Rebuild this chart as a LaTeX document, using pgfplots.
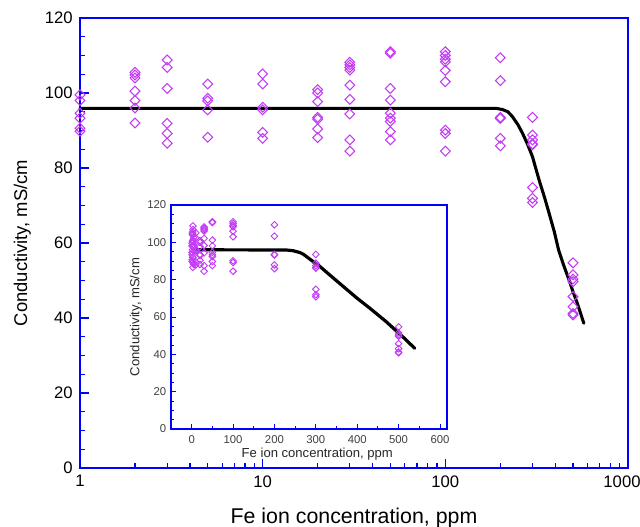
\documentclass[border=0pt]{standalone}
\usepackage{fontspec}
\setmainfont{Liberation Sans}
\usepackage{pgfplots}
\pgfplotsset{compat=1.18}
\usepackage{pgfplotstable}

\definecolor{axblue}{RGB}{0,0,255}
\definecolor{mk}{RGB}{195,60,245}

\pgfplotstableread{
x y
1 99.5
1 98
1 94.6
1 93.3
1 90.6
1 89.8
2 105.5
2 104.8
2 104
2 100.5
2 98
2 96
2 92
3 108.8
3 106.8
3 101.2
3 91.9
3 89.2
3 86.6
5 102.4
5 98.6
5 97.9
5 95.5
5 88.2
10 105.1
10 102.4
10 96.2
10 95.5
10 89.5
10 87.9
20 100.9
20 100
20 97.7
20 93.5
20 93
20 90.4
20 88.1
30 108.2
30 107.5
30 106.8
30 106.1
30 102.1
30 98.3
30 94.4
30 87.5
30 84.5
50 111
50 110.6
50 101.2
50 98.1
50 94.6
50 93.3
50 92.4
50 89.7
50 87.5
100 111
100 110
100 109
100 108.3
100 106
100 103
100 90.1
100 89.2
100 84.5
200 109.4
200 103.3
200 93.5
200 93.2
200 87.9
200 85.9
300 93.5
300 88.8
300 87.5
300 86.4
300 86.2
300 74.8
300 71.9
300 70.8
500 54.7
500 51.5
500 50.4
500 49.7
500 45.7
500 43
500 41.2
500 40.8
}\data

\pgfplotstableread{
x y
1 95.9
190 95.9
205 95.6
220 95.0
233 93.7
250 91.5
265 89.2
282 86.3
300 83.0
326 76.8
350 72.0
370 67.9
395 63.0
417 58.1
445 54.0
476 50.1
500 47.0
528 43.9
573 38.6
}\mainfit

\pgfplotstableread{
x y
10 96.0
228 95.9
245 95.5
262 94.5
270 93.6
300 88.6
307 87.6
349 79.6
400 70.0
430 64.8
470 57.5
511 49.2
539 43.2
}\insetfit

\begin{document}
\begin{tikzpicture}
\begin{axis}[
  at={(60pt,44.25pt)}, anchor=south west,
  scale only axis, width=411pt, height=337.5pt,
  xmode=log, xmin=1, xmax=1000, ymin=0, ymax=120,
  clip=false,
  axis line style={axblue, line width=1.1pt},
  every tick/.style={axblue, line width=0.9pt},
  tick align=inside, xtick pos=bottom, ytick pos=left,
  major tick length=6.5pt, minor tick length=3.5pt,
  xtick={1,10,100,1000}, xticklabels={1,10,100,{\hspace*{-9pt}1000}},
  minor xtick={2,3,4,5,6,7,8,9,20,30,40,50,60,70,80,90,200,300,400,500,600,700,800,900},
  ytick={0,20,...,120}, minor y tick num=3,
  /pgf/number format/assume math mode=true,
  tick label style={font=\fontsize{12.5}{14}\selectfont, black},
  yticklabel style={xshift=-2pt},
  xticklabel style={yshift=-2pt},
  xlabel={Fe ion concentration, ppm},
  ylabel={Conductivity, mS/cm},
  xlabel style={at={(axis description cs:0.5,-0.1244)}, anchor=base, font=\fontsize{16}{18}\selectfont},
  ylabel style={at={(axis description cs:-0.105,0.5)}, anchor=center, font=\fontsize{13.8}{16}\selectfont},
]
\addplot[only marks, mark=square, mark size=2.6pt, mark options={rotate=45, draw=mk, line width=0.8pt}] table[x=x,y=y]{\data};
\addplot[black, line width=2.3pt, line join=round, line cap=round] table[x=x,y=y]{\mainfit};
\end{axis}

\begin{axis}[
  at={(128.25pt,73.5pt)}, anchor=south west,
  scale only axis, width=207pt, height=168pt,
  xmin=-50, xmax=617, ymin=0, ymax=120,
  axis background/.style={fill=white},
  axis line style={axblue, line width=0.9pt},
  every tick/.style={axblue, line width=0.7pt},
  tick align=inside, xtick pos=bottom, ytick pos=left,
  major tick length=4pt, minor tick length=2.5pt,
  xtick={0,100,...,600}, minor x tick num=1,
  ytick={0,20,...,120}, minor y tick num=3,
  /pgf/number format/assume math mode=true,
  tick label style={font=\fontsize{8.5}{10}\selectfont, black!75},
  xticklabel style={yshift=-1.5pt},
  xlabel={Fe ion concentration, ppm},
  ylabel={Conductivity, mS/cm},
  xlabel style={at={(axis description cs:0.53,-0.128)}, anchor=base, font=\fontsize{9.8}{11}\selectfont, black!85},
  ylabel style={at={(axis description cs:-0.127,0.5)}, anchor=center, font=\fontsize{9.8}{11}\selectfont, black!85},
]
\addplot[only marks, mark=square, mark size=1.75pt, mark options={rotate=45, draw=mk, line width=0.7pt}] table[x=x,y=y]{\data};
\addplot[black, line width=2.4pt, line join=round, line cap=round] table[x=x,y=y]{\insetfit};
\end{axis}
\pgfresetboundingbox
\path[use as bounding box] (0,0) rectangle (480pt,395.25pt);
\end{tikzpicture}
\end{document}
